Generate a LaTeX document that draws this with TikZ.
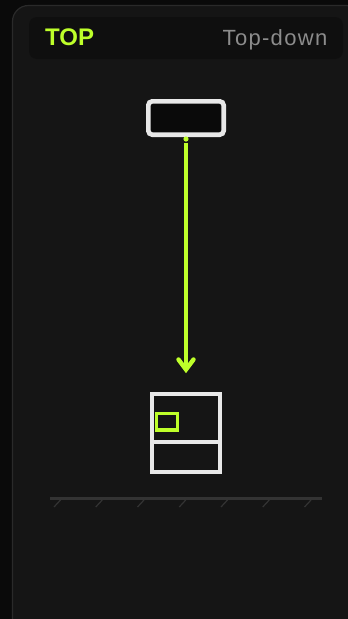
\documentclass[tikz,border=0pt]{standalone}
\usepackage{fontspec}
\setmainfont{Liberation Sans}
\usetikzlibrary{arrows.meta}
\definecolor{pagebg}{HTML}{0A0A0A}
\definecolor{panelbg}{HTML}{151515}
\definecolor{panelline}{HTML}{2A2A2A}
\definecolor{headbg}{HTML}{0F0F0F}
\definecolor{lime}{HTML}{BEFF2A}
\definecolor{boxline}{HTML}{E8E8E8}
\definecolor{groundline}{HTML}{333333}
\definecolor{subgrey}{HTML}{8C8C8C}
\tikzset{
  x=1pt,y=-1pt,
  panel/.style={fill=panelbg,draw=panelline,line width=1.2pt,rounded corners=16pt},
  headbar/.style={fill=headbg,rounded corners=8pt},
  topbox/.style={draw=boxline,fill=pagebg,line width=4.6pt,rounded corners=4pt},
  wall/.style={draw=boxline,line width=4.2pt},
  win/.style={draw=lime,line width=3.4pt},
  beam/.style={draw=lime,line width=4.4pt},
  ground/.style={draw=groundline,line width=2.6pt},
  tick/.style={draw=groundline,line width=1.2pt},
}
\begin{document}
\begin{tikzpicture}
\useasboundingbox (0,0) rectangle (348,619);
\fill[pagebg] (0,0) rectangle (348,619);
\begin{scope}
\clip (0,0) rectangle (348,619);
\draw[panel] (12.5,5.5) rectangle (362,635);
\end{scope}
\fill[headbar] (29,17) rectangle (343,59);
\node[anchor=base west,inner sep=0pt,text=lime,font=\fontsize{24}{24}\selectfont\bfseries] (title) at (45,45.5) {TOP};
\node[anchor=base east,inner sep=0pt,text=subgrey,font=\fontsize{22}{22}\selectfont] (sub) at (327.5,45.5) {\addfontfeatures{LetterSpace=6}Top-down};
\node[topbox,minimum width=75.4pt,minimum height=33.4pt,inner sep=0pt,anchor=center] (top) at (186,118) {};
\coordinate (tip) at (186,369.5);
\fill[lime] (186,139) circle (2.6pt);
\draw[beam] (186,143) -- (tip);
\draw[beam,line cap=round,line join=miter] (178.5,359.5) -- (tip) -- (193.5,359.5);
\draw[wall] (152,394) rectangle (220,472);
\draw[wall] (150,442.3) -- (222,442.3);
\draw[win] (156.7,413.7) rectangle (177.3,430);
\draw[ground] (50,498.5) -- (322,498.5);
\foreach \x in {0,...,6}{
  \draw[tick] ({60.5+41.75*\x},500) -- ({54+41.75*\x},507);
}
\end{tikzpicture}
\end{document}
